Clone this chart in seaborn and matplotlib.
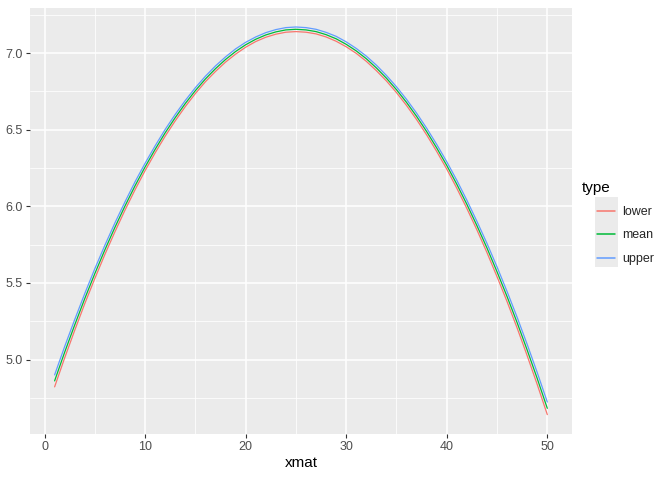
import seaborn as sns
import matplotlib.pyplot as plt
import pandas as pd
from matplotlib.patches import Rectangle

# values
xmat = list(range(1, 51))
mean = [4.861, 5.048, 5.226, 5.398, 5.561, 5.716, 5.863, 6.002, 6.134, 6.257,
        6.372, 6.480, 6.579, 6.671, 6.755, 6.831, 6.898, 6.958, 7.010, 7.054,
        7.090, 7.118, 7.138, 7.151, 7.155, 7.151, 7.140, 7.120, 7.093, 7.057,
        7.014, 6.963, 6.903, 6.836, 6.761, 6.678, 6.587, 6.488, 6.381, 6.267,
        6.144, 6.013, 5.874, 5.728, 5.573, 5.411, 5.241, 5.062, 4.876, 4.682]
lower = [4.822, 5.011, 5.191, 5.365, 5.529, 5.686, 5.834, 5.975, 6.108, 6.233,
         6.349, 6.458, 6.558, 6.651, 6.736, 6.813, 6.880, 6.941, 6.993, 7.038,
         7.075, 7.103, 7.123, 7.136, 7.140, 7.136, 7.125, 7.105, 7.077, 7.041,
         6.998, 6.946, 6.885, 6.818, 6.742, 6.658, 6.566, 6.466, 6.358, 6.243,
         6.118, 5.986, 5.846, 5.698, 5.541, 5.378, 5.206, 5.025, 4.837, 4.641]
upper = [4.900, 5.085, 5.261, 5.431, 5.593, 5.746, 5.892, 6.029, 6.160, 6.281,
         6.395, 6.502, 6.600, 6.691, 6.774, 6.849, 6.916, 6.975, 7.027, 7.070,
         7.105, 7.133, 7.153, 7.166, 7.170, 7.166, 7.155, 7.135, 7.109, 7.073,
         7.030, 6.980, 6.921, 6.854, 6.780, 6.698, 6.608, 6.510, 6.404, 6.291,
         6.170, 6.040, 5.902, 5.758, 5.605, 5.444, 5.276, 5.099, 4.915, 4.723]
types = ["lower", "mean", "upper"]
colors = ["#F8766D", "#00BA38", "#619CFF"]

df = pd.DataFrame({
    "xmat": xmat * 3,
    "value": lower + mean + upper,
    "type": [t for t in types for _ in xmat],
})

sns.set_theme(style="darkgrid", rc={
    "axes.facecolor": "#EBEBEB",
    "grid.color": "white",
    "axes.edgecolor": "#EBEBEB",
})
plt.rcParams["font.family"] = ["Liberation Sans", "DejaVu Sans"]

fig = plt.figure(figsize=(6.72, 4.8), dpi=100)
ax = fig.add_axes([0.0446, 0.096, 0.8065, 0.888])

sns.lineplot(data=df, x="xmat", y="value", hue="type", palette=colors,
             hue_order=types, linewidth=0.9, ax=ax)

ax.set_xlim(-1.45, 52.45)
ax.set_ylim(4.515, 7.296)
ax.set_xticks([0, 10, 20, 30, 40, 50])
ax.set_yticks([5.0, 5.5, 6.0, 6.5, 7.0])
ax.set_yticklabels(["5.0", "5.5", "6.0", "6.5", "7.0"])
ax.set_xticks([5, 15, 25, 35, 45], minor=True)
ax.set_yticks([4.75, 5.25, 5.75, 6.25, 6.75, 7.25], minor=True)
ax.grid(which="major", color="white", linewidth=1.1)
ax.grid(which="minor", color="white", linewidth=0.55)
ax.tick_params(which="major", length=3, width=0.8, color="#333333",
               labelsize=9, labelcolor="#4D4D4D", pad=2, bottom=True, left=True)
ax.tick_params(which="minor", length=0)
for s in ax.spines.values():
    s.set_visible(False)
ax.set_xlabel("xmat", fontsize=11, color="black", labelpad=2)
ax.set_ylabel("")

# legend on the right, grey key background like ggplot
ax.get_legend().remove()
fig.patches.append(Rectangle((595 / 672, 1 - 267 / 480), 23 / 672, 70 / 480,
                             transform=fig.transFigure, facecolor="#EBEBEB",
                             edgecolor="none", zorder=0))
fig.text(582 / 672, 1 - 188 / 480, "type", fontsize=11, color="black",
         ha="left", va="center")
handles = [plt.Line2D([], [], color=c, linewidth=1.1) for c in colors]
fig.legend(handles, types, loc="upper left",
           bbox_to_anchor=(592 / 672, 1 - 201 / 480), frameon=False,
           fontsize=9, handlelength=1.4, labelspacing=0.92,
           handletextpad=0.6, borderaxespad=0)

fig.savefig("out.png", dpi=100)
